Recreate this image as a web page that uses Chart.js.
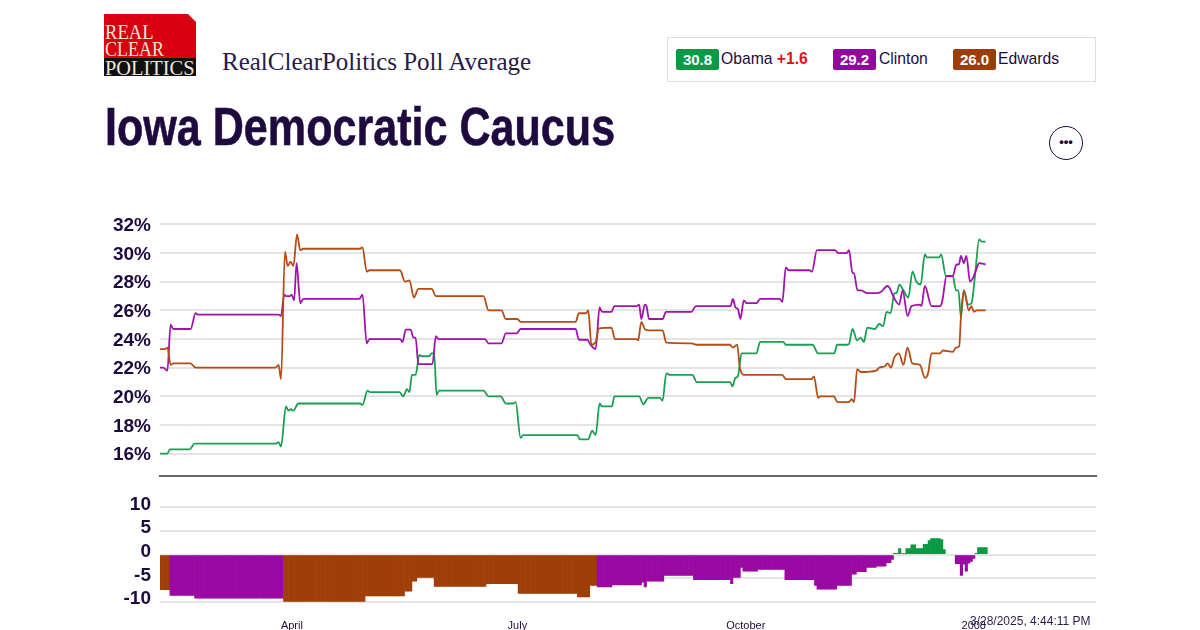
<!DOCTYPE html>
<html><head><meta charset="utf-8">
<script src="https://cdn.jsdelivr.net/npm/chart.js@4"></script>
<style>
html,body{margin:0;padding:0;background:#fff;width:1200px;height:630px;overflow:hidden}
body{position:relative;font-family:"Liberation Sans",Arial,sans-serif;color:#1f0a40}
canvas{position:absolute;left:0}
.abs{position:absolute;white-space:nowrap}
#logoRed{left:104px;top:14px;width:92px;height:44px;background:#d8000f;clip-path:polygon(0 0,84px 0,92px 8px,92px 44px,0 44px)}
#logoBlack{left:104px;top:58px;width:92px;height:18px;background:#111}
.lg{font-family:"Liberation Serif",serif;color:#f4e4dc;font-size:20px;line-height:18px;left:105px;transform-origin:left center}
#title{left:105px;top:95px;font:bold 54px "Liberation Sans",sans-serif;color:#1f0a40;line-height:62px;transform:scaleX(.798);transform-origin:left center;-webkit-text-stroke:.6px #1f0a40}
#sub{left:222px;top:47px;font:25px "Liberation Serif",serif;color:#2a1a4a;line-height:30px}
#legend{left:667px;top:37px;width:427px;height:43px;border:1px solid #ddd}
.badge{height:21px;width:43px;top:49px;border-radius:2px;color:#fff;font:bold 15px/21px "Liberation Sans",sans-serif;text-align:center}
.nm{top:49px;font:15.7px/20px "Liberation Sans",sans-serif;color:#1f0a40}
#more{left:1049px;top:126px;width:32px;height:32px;border:1.5px solid #1f0a40;border-radius:50%;text-align:center;font:bold 13px/30px "Liberation Sans",sans-serif}
#stamp{left:970px;top:613px;font:12px/16px "Liberation Sans",sans-serif;color:#2a1a4a}
</style></head><body>
<div class="abs" id="logoRed"></div><div class="abs" id="logoBlack"></div>
<div class="abs lg" style="top:23px;transform:scaleX(.93)">REAL</div>
<div class="abs lg" style="top:40px;transform:scaleX(.9)">CLEAR</div>
<div class="abs lg" style="top:59px;transform:scaleX(1.02)">POLITICS</div>
<div class="abs" id="sub">RealClearPolitics Poll Average</div>
<div class="abs" id="title">Iowa Democratic Caucus</div>
<div class="abs" id="legend"></div>
<div class="abs badge" style="left:676px;background:#0a9a46">30.8</div>
<div class="abs nm" style="left:721px">Obama <b style="color:#e0101a">+1.6</b></div>
<div class="abs badge" style="left:833px;background:#93089c">29.2</div>
<div class="abs nm" style="left:879px">Clinton</div>
<div class="abs badge" style="left:953px;background:#9c3d06">26.0</div>
<div class="abs nm" style="left:998px">Edwards</div>
<div class="abs" id="more">•••</div>
<canvas id="top" width="1200" height="292" style="top:204px;width:1200px;height:292px"></canvas>
<canvas id="bot" width="1200" height="143" style="top:487px;width:1200px;height:143px"></canvas>
<div class="abs" id="stamp">3/28/2025, 4:44:11 PM</div>
<script>
const seriesNames = ['Obama','Clinton','Edwards'];
const obamaDays = [0,3,4,12,14,47,48,49,51,52,53,54,56,81,82,84,85,97,98.5,100,101,102,103.5,105,106,109,110,111,112,113,131,133,138,140,143,144,146,147,169,170,173.4,175,176.4,178,179,183,184,194,195.7,197.7,202.4,203.5,205,206.5,215.6,217.3,230.8,231.8,233,234,235.5,241.5,243,252.4,253.4,264.2,266.5,273,274.2,278.3,279,280.4,282.3,283.7,285,286.4,289.5,291.2,292.8,294.2,295.8,297.4,298.2,299.4,301,303,304.7,306.3,308,309.7,310.6,315.5,316.3,318.2,321,322.3,323.3,324.3,325.5,327.2,328.6,330,331.7,332.6,334.3];
const obamaValues = [16,16,16.3,16.3,16.7,16.7,16.8,16.5,19.3,19,19.1,19,19.5,19.5,19.4,20.4,20.3,20.3,20,20.5,20.3,21.5,21.5,22.9,22.8,22.8,23,23,20.1,20.4,20.4,20,20,19.5,19.5,19.6,17.1,17.3,17.3,17,17,17.6,17.3,19.5,19.3,19.3,20,20,19.45,19.9,19.9,19.7,21.6,21.5,21.5,21,21,20.7,21.3,21.4,23,23,23.8,23.8,23.6,23.6,23,23,23.6,23.6,23.65,24.7,23.9,24.1,23.8,24.8,24.7,25.05,24.9,25.9,25.8,27.2,27.2,27.8,27.4,26.9,28.7,28,27.8,29.9,29.7,29.7,29.9,28.4,28.4,27.4,27.4,25.5,27.4,26.4,26.5,28.4,30.95,30.8,30.8];
const clintonDays = [0,1.3,3,4.3,5.4,12.4,14.4,15.5,48,49,50.3,51,52.6,53.3,54.3,55.3,56.8,58,80.7,82,83.7,84.8,97.2,98.2,99.5,101.5,102.6,103.5,104.6,110.3,111.7,112.7,131.6,133,138.3,140,144.4,146,168.3,169.6,173,174.3,176.4,178,179,182.8,184,193,194,194.9,196.3,197,198,203.5,204.9,215.2,217,230,231,232,233,234,235,236.4,237.5,241.5,243,251,252,253.4,254.5,263,264,266,273.3,274.6,278,279,280.4,281,282.4,283.8,286.4,290,292,294.5,295.3,297.3,299.3,300.7,302.7,304.3,307.7,308.3,309.7,312.4,315.8,316.7,318.5,321,322.5,323.5,324.3,325.5,326.5,328,329.3,330.6,331.7,334.3];
const clintonValues = [22,22,21.8,25,24.7,24.7,25.8,25.7,25.7,25.6,27.1,27,27,27.1,26.7,29.3,26.5,26.8,26.8,27.1,23.7,24,24,23.8,24.66,24.66,24.1,24.1,22.25,22.25,24.2,24,24,23.7,23.7,24.4,24.4,24.7,24.7,23.95,23.95,23.6,23.3,26.2,25.9,25.9,26.3,26.3,26.4,25.4,26.4,26.3,25.4,25.4,25.9,25.9,26.3,26.3,26.3,26.8,26.2,26.1,25.4,26.7,26.5,26.5,26.8,26.8,26.6,29,28.8,28.8,28.7,30.2,30.2,30,30,30.2,28.6,28.6,27.4,27.4,27.2,27.2,27.3,27.7,27.6,26.85,26.4,27.4,25.6,26.3,26.4,26.3,27.7,26.3,26.3,26.6,28.4,28.4,29.2,29.2,29.8,29.3,29.8,28,28.3,28.9,29.3,29.2];
const edwardsDays = [0,2,3,4.3,5.4,12.4,14.4,46.8,48,49,50.6,51.7,52.9,54,55.5,56.8,58,81,82,83.7,84.8,97.2,99.2,101,102.8,104.6,110,111.7,131,133,138.3,140,144.7,146,168.3,169.6,172.5,173.4,174.7,176.4,177.7,182.8,184.2,193,193.6,194.9,196.3,198,203.5,205,215.2,217.3,230.8,232,233.7,234.8,236.4,252,253.4,263.8,264.8,266.5,267.2,272.9,274.3,279,280,281,282.3,283.8,290,291.2,293.5,294.6,296,297.3,299.2,301,302.7,304.6,307.7,309.7,311,312.4,315.8,317,321,322.3,323.6,324.4,325.5,327.5,328.5,329.6,330.6,334.3];
const edwardsValues = [23.3,23.3,23.4,22.2,22.3,22.3,22,22,22.2,21.2,30.1,29.1,29.4,29.1,31.3,30.2,30.3,30.3,30.4,28.7,28.8,28.8,28,28.1,26.9,27.5,27.5,27,27,26,26,25.4,25.4,25.2,25.2,25.8,25.8,26,23.6,23.8,24.75,24.8,24,24,23.9,25.2,24.7,24.6,24.6,23.75,23.7,23.6,23.6,23.4,23.6,22,21.5,21.5,21.2,21.2,21.4,19.9,20,20,19.6,19.6,19.8,19.6,21.9,21.7,21.8,22,22.1,22.3,22,22.7,23,22.2,23.4,22.3,22.2,21.3,21.6,23,23,23.2,23.1,23.4,23.5,25.8,27.4,26,26.3,25.9,26,26];
const spreadValues = [
-7.4,-7.4,-7.4,-7.4,
-8.6,-8.6,-8.6,-8.6,-8.6,-8.6,-8.6,-8.6,-8.6,-8.6,
-9.2,-9.2,-9.2,-9.2,-9.2,-9.2,-9.2,-9.2,-9.2,-9.2,-9.2,-9.2,-9.2,-9.2,-9.2,-9.2,-9.2,-9.2,-9.2,-9.2,-9.2,-9.2,-9.2,-9.2,-9.2,-9.2,-9.2,-9.2,-9.2,-9.2,-9.2,-9.2,-9.2,-9.2,-9.2,-9.2,
-9.9,-9.9,-9.9,-9.9,-9.9,-9.9,-9.9,-9.9,-9.9,-9.9,-9.9,-9.9,-9.9,-9.9,-9.9,-9.9,-9.9,-9.9,-9.9,-9.9,-9.9,-9.9,-9.9,-9.9,-9.9,-9.9,-9.9,-9.9,-9.9,-9.9,-9.9,-9.9,-9.9,
-8.7,-8.7,-8.7,-8.7,-8.7,-8.7,-8.7,-8.7,-8.7,-8.7,-8.7,-8.7,-8.7,-8.7,-8.7,-8.7,
-7.7,-7.7,-7.7,-5.6,-5.6,
-4.8,-4.8,-4.8,-4.8,-4.8,-4.8,-4.8,
-6.7,-6.7,-6.7,-6.7,-6.7,-6.7,-6.7,-6.7,-6.7,-6.7,-6.7,-6.7,-6.7,-6.7,-6.7,-6.7,-6.7,-6.7,-6.7,-6.7,-6.7,
-6.1,-6.1,-6.1,-6.1,-6.1,-6.1,-6.1,-6.1,-6.1,-6.1,-6.1,-6.1,-6.1,
-8.2,-8.2,-8.2,-8.2,-8.2,-8.2,-8.2,-8.2,-8.2,-8.2,-8.2,-8.2,-8.2,-8.2,-8.2,-8.2,-8.2,-8.2,-8.2,-8.2,-8.2,-8.2,-8.2,-8.2,
-8.9,-8.9,-8.9,-8.9,-8.9,-6.5,-6.5,-6.5,
-6.8,-6.8,-6.8,-6.8,-6.8,-6.8,
-6.4,-6.4,-6.4,-6.4,-6.4,-6.4,-6.4,-6.4,-6.4,-6.4,-6.4,-6.4,-5.8,-6.8,
-5.6,-5.6,-5.6,-5.6,-5.6,-5.6,-5.6,
-4.4,-4.4,-4.4,-4.4,-4.4,-4.4,-4.4,-4.4,-4.4,-4.4,-4.4,-4.4,
-5.3,-5.3,-5.3,-5.3,-5.3,-5.3,-5.3,-5.3,-5.3,-5.3,-5.3,-5.3,-5.3,-5.3,-5.3,
-6.1,-4.8,-4.8,-4.8,-2.7,
-3.5,-3.5,-3.5,-3.5,-3.5,-3.5,
-3.1,-3.1,-3.1,-3.1,-3.1,-3.1,-3.1,-3.1,-3.1,-3.1,-3.1,
-5.3,-5.3,-5.3,-5.3,-5.3,-5.3,-5.3,-5.3,-5.3,-5.3,-5.3,-5.3,
-6.5,-7.3,-7.3,-7.3,-7.3,-7.3,-7.3,-7.3,-7.3,
-6.5,-6.5,-6.5,-6.5,-6.5,-6.5,
-4.1,-4.1,-3.6,-3.6,-3.6,-3.6,-2.7,-2.7,-2.7,-2.7,-2.4,-2.4,-2.4,-2.4,-1.7,-1.7,-1,
0.3,0.3,1.3,0.2,0.2,1.3,1.3,2.1,2.1,1.3,1.3,1.3,2.2,2.2,3,3.4,3.4,3.4,3.4,3.2,1.1,
null,null,null,null,
-1.9,-1.9,-4.4,-2,-3.5,-1.8,-1.4,-0.8,
0.3,1.5,1.5,1.5,1.5];
const leaderStartDays = [0,4,50,177,297,322,330];
const leaderNames = ['Edwards','Clinton','Edwards','Clinton','Obama','Clinton','Obama'];
const lineColors = {Obama:'#1c9e52',Clinton:'#a012aa',Edwards:'#b44c16'};
const barColors = {Obama:'#0a9a46',Clinton:'#9a0aa2',Edwards:'#a03e08'};
const mainTicks = [16,18,20,22,24,26,28,30,32];
const spreadTicks = [-10,-5,0,5,10];
const monthTickDays = [53.4,144.7,237.2,329.5];
const monthTickLabels = ['April','July','October','2008'];

Chart.defaults.animation = false;
Chart.defaults.devicePixelRatio = 1;
Chart.defaults.responsive = false;
const ink = '#1f0a40', grid = '#e4e4e4';
const X_MAX = 379;
const pts = (xs, ys) => xs.map((x, i) => ({x, y: ys[i]}));
const line = (name, xs, ys) => ({label: name, data: pts(xs, ys), borderColor: lineColors[name], borderWidth: 1.8, pointRadius: 0, cubicInterpolationMode: 'monotone', fill: false});
const leaderOf = d => { let n = leaderNames[0]; leaderStartDays.forEach((s, i) => { if (d >= s) n = leaderNames[i]; }); return n; };
const yFit = s => { s.width = 160; };

new Chart(document.getElementById('top'), {
  type: 'line',
  data: {datasets: [line('Edwards', edwardsDays, edwardsValues), line('Clinton', clintonDays, clintonValues), line('Obama', obamaDays, obamaValues)]},
  options: {
    layout: {padding: {top: 1, bottom: 0, right: 104, left: 0}},
    plugins: {legend: {display: false}, tooltip: {enabled: false}},
    scales: {
      x: {type: 'linear', min: 0, max: X_MAX, ticks: {display: false}, grid: {display: false, drawTicks: false}, border: {color: '#666', width: 2}},
      y: {min: 14.47, max: 32, afterBuildTicks: s => { s.ticks = mainTicks.map(value => ({value})); }, afterFit: yFit,
          ticks: {padding: 9, labelOffset: 1.5, color: ink, font: {family: 'Liberation Sans', size: 19, weight: 'bold'}, callback: v => v + '%', autoSkip: false},
          grid: {color: grid, lineWidth: 2, drawTicks: false}, border: {display: false}}
    }
  }
});

new Chart(document.getElementById('bot'), {
  type: 'bar',
  data: {datasets: [{
    label: 'Spread',
    data: spreadValues.map((v, i) => ({x: i + 0.5, y: v})),
    backgroundColor: spreadValues.map((v, i) => barColors[leaderOf(i)]),
    barPercentage: 1, categoryPercentage: 1, borderWidth: 0
  }]},
  options: {
    layout: {padding: {top: 14, bottom: 0, right: 104, left: 0}},
    plugins: {legend: {display: false}, tooltip: {enabled: false}},
    scales: {
      x: {type: 'linear', offset: false, min: 0, max: X_MAX, afterBuildTicks: s => { s.ticks = monthTickDays.map(value => ({value})); },
          afterFit: s => { s.height = 28; },
          ticks: {autoSkip: false, maxRotation: 0, padding: 17, color: ink, font: {family: 'Liberation Sans', size: 11}, callback: v => monthTickLabels[monthTickDays.indexOf(v)]},
          grid: {display: false, drawTicks: false}, border: {display: false}},
      y: {min: -10, max: 10, afterBuildTicks: s => { s.ticks = spreadTicks.map(value => ({value})); }, afterFit: yFit,
          ticks: {padding: 9, labelOffset: -3, color: ink, font: {family: 'Liberation Sans', size: 19, weight: 'bold'}, autoSkip: false},
          grid: {color: grid, lineWidth: 2, drawTicks: false}, border: {display: false}}
    }
  }
});
</script>
</body></html>
